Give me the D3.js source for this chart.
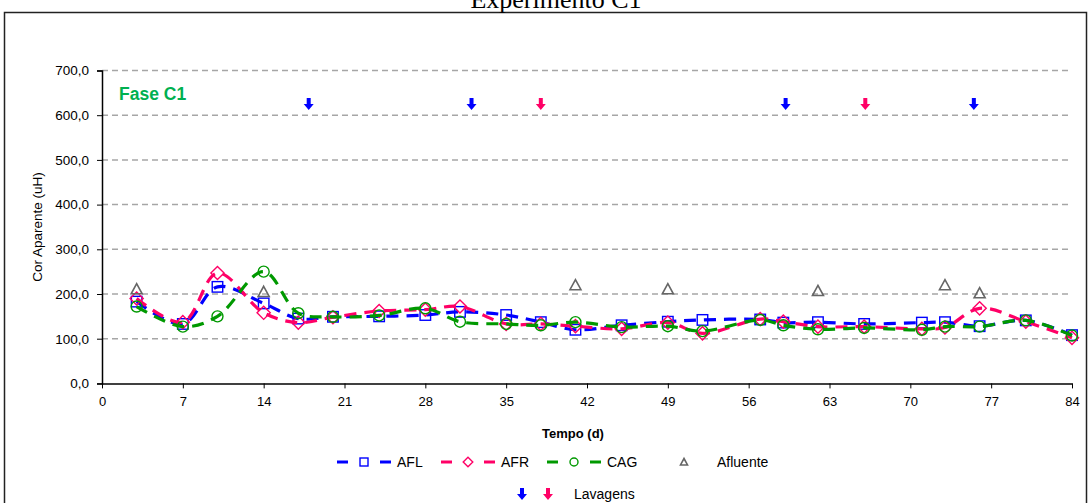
<!DOCTYPE html>
<html>
<head>
<meta charset="utf-8">
<script src="https://cdn.jsdelivr.net/npm/d3@7/dist/d3.min.js"></script>
<style>
  html, body { margin: 0; padding: 0; background: #fff; }
  svg { display: block; }
  text { font-family: Arial, "Liberation Sans", sans-serif; }
</style>
</head>
<body>
<svg id="chart" width="1089" height="503"></svg>
<script>
// Sampling days (d)
const days = [3, 7, 10, 14, 17, 20, 24, 28, 31, 35, 38, 41, 45, 49, 52, 57, 59, 62, 66, 71, 73, 76, 80, 84];

// Apparent colour (uH) for each filter
const afl = [183, 133, 216, 179, 145, 149, 150, 153, 160, 153, 137, 120, 130, 138, 142, 143, 136, 137, 133, 136, 137, 128, 141, 108];
const afr = [190, 137, 247, 158, 136, 148, 162, 165, 172, 133, 133, 128, 122, 136, 112, 144, 138, 127, 127, 122, 125, 168, 138, 102];
const cag = [172, 127, 150, 250, 157, 149, 152, 168, 138, 133, 130, 137, 126, 128, 117, 142, 130, 121, 124, 120, 127, 127, 141, 107];

// Influent samples
const afluenteDays = [3, 14, 41, 49, 62, 73, 76];
const afluente = [211, 205, 220, 211, 207, 220, 202];

// Backwash events (plotted near the top of the axis)
const lavagemAzulDays = [17.9, 32, 59.2, 75.5];
const lavagemRosaDays = [38, 66.1];
const lavagemNivel = 625;

const xTicks = [0, 7, 14, 21, 28, 35, 42, 49, 56, 63, 70, 77, 84];
const yTicks = [0, 100, 200, 300, 400, 500, 600, 700];

const svg = d3.select("#chart");

// Outer frame and title
svg.append("rect")
  .attr("x", 4.5).attr("y", 12.5).attr("width", 1082).attr("height", 500)
  .attr("fill", "none").attr("stroke", "#222").attr("stroke-width", 1.5);

svg.append("text")
  .attr("x", 556).attr("y", 8)
  .attr("text-anchor", "middle")
  .style("font-family", "'Liberation Serif', 'Times New Roman', serif")
  .style("font-size", "26px")
  .text("Experimento C1");

const x = d3.scaleLinear().domain([0, 84]).range([102, 1072]);
const y = d3.scaleLinear().domain([0, 700]).range([383.4, 70.5]);

// Gridlines
svg.append("g")
  .selectAll("line")
  .data(yTicks.filter(v => v > 0))
  .join("line")
  .attr("x1", x(0)).attr("x2", x(84))
  .attr("y1", d => y(d)).attr("y2", d => y(d))
  .attr("stroke", "#a6a6a6").attr("stroke-width", 1.5)
  .attr("stroke-dasharray", "6,4");

// Axes
const fmt = d => d3.format(".1f")(d).replace(".", ",");
const yAxis = svg.append("g")
  .attr("transform", `translate(${x(0)},0)`)
  .call(d3.axisLeft(y).tickValues(yTicks).tickFormat(fmt).tickSize(5).tickPadding(8));
yAxis.select(".domain").attr("stroke", "#000").attr("stroke-width", 1.5);
yAxis.selectAll(".tick line").attr("stroke", "#000");
yAxis.selectAll("text").style("font-size", "13.5px").attr("fill", "#000")
  .style("font-family", "Arial, 'Liberation Sans', sans-serif");

const xAxis = svg.append("g")
  .attr("transform", `translate(0,${y(0)})`)
  .call(d3.axisBottom(x).tickValues(xTicks).tickFormat(d3.format("d")).tickSize(5).tickSizeOuter(0).tickPadding(8));
xAxis.select(".domain").attr("stroke", "#000").attr("stroke-width", 1.5);
xAxis.selectAll(".tick line").attr("stroke", "#000");
xAxis.selectAll("text").style("font-size", "13px").attr("fill", "#000")
  .style("font-family", "Arial, 'Liberation Sans', sans-serif");

// Axis titles
svg.append("text")
  .attr("transform", `translate(42,${(y(0) + y(700)) / 2}) rotate(-90)`)
  .attr("text-anchor", "middle")
  .style("font-size", "13.5px")
  .text("Cor Aparente (uH)");

svg.append("text")
  .attr("x", 573).attr("y", 438)
  .attr("text-anchor", "middle")
  .style("font-size", "13px").style("font-weight", "bold")
  .text("Tempo (d)");

// Phase label
svg.append("text")
  .attr("x", 119).attr("y", 99.5)
  .style("font-size", "17.5px").style("font-weight", "bold")
  .attr("fill", "#00b050")
  .text("Fase C1");

// Marker shapes
function marker(sel, kind, color, size) {
  const s = size;
  if (kind === "square") {
    sel.append("rect").attr("x", -s / 2).attr("y", -s / 2).attr("width", s).attr("height", s)
      .attr("fill", "none").attr("stroke", color).attr("stroke-width", 1.4);
  } else if (kind === "diamond") {
    const h = s * 0.6;
    sel.append("path").attr("d", `M0,${-h}L${h},0L0,${h}L${-h},0Z`)
      .attr("fill", "none").attr("stroke", color).attr("stroke-width", 1.4);
  } else if (kind === "circle") {
    sel.append("circle").attr("r", s / 2)
      .attr("fill", "none").attr("stroke", color).attr("stroke-width", 1.4);
  } else if (kind === "triangle") {
    const h = s * 0.5;
    sel.append("path").attr("d", `M0,${-h}L${h},${h * 0.85}L${-h},${h * 0.85}Z`)
      .attr("fill", "none").attr("stroke", color).attr("stroke-width", 1.6);
  }
}

function arrow(sel, color) {
  sel.append("path")
    .attr("d", "M-2,-6L2,-6L2,0L5,0L0,6L-5,0L-2,0Z")
    .attr("fill", color);
}

const series = [
  { name: "AFL", values: afl, color: "#0000ff", kind: "square", size: 10.5 },
  { name: "AFR", values: afr, color: "#ff0066", kind: "diamond", size: 11 },
  { name: "CAG", values: cag, color: "#009900", kind: "circle", size: 11 }
];

const line = d3.line()
  .x(d => x(d[0])).y(d => y(d[1]))
  .curve(d3.curveCatmullRom.alpha(0.5));

series.forEach(s => {
  const pts = days.map((d, i) => [d, s.values[i]]);
  svg.append("path")
    .datum(pts)
    .attr("d", line)
    .attr("fill", "none")
    .attr("stroke", s.color)
    .attr("stroke-width", 3.2)
    .attr("stroke-dasharray", "12,8");
  svg.append("g").selectAll("g")
    .data(pts)
    .join("g")
    .attr("transform", d => `translate(${x(d[0])},${y(d[1])})`)
    .each(function () { marker(d3.select(this), s.kind, s.color, s.size); });
});

// Influent markers
svg.append("g").selectAll("g")
  .data(afluenteDays.map((d, i) => [d, afluente[i]]))
  .join("g")
  .attr("transform", d => `translate(${x(d[0])},${y(d[1])})`)
  .each(function () { marker(d3.select(this), "triangle", "#666666", 11); });

// Backwash arrows
svg.append("g").selectAll("g")
  .data(lavagemAzulDays)
  .join("g")
  .attr("transform", d => `translate(${x(d)},${y(lavagemNivel)})`)
  .each(function () { arrow(d3.select(this), "#0000ff"); });
svg.append("g").selectAll("g")
  .data(lavagemRosaDays)
  .join("g")
  .attr("transform", d => `translate(${x(d)},${y(lavagemNivel)})`)
  .each(function () { arrow(d3.select(this), "#ff0066"); });

// Legend
const legY = 462;
const legend = svg.append("g");
const legItems = [
  { label: "AFL", color: "#0000ff", kind: "square", x0: 337 },
  { label: "AFR", color: "#ff0066", kind: "diamond", x0: 441 },
  { label: "CAG", color: "#009900", kind: "circle", x0: 547 }
];
legItems.forEach(it => {
  legend.append("line").attr("x1", it.x0).attr("x2", it.x0 + 11).attr("y1", legY).attr("y2", legY)
    .attr("stroke", it.color).attr("stroke-width", 3);
  legend.append("line").attr("x1", it.x0 + 43).attr("x2", it.x0 + 54).attr("y1", legY).attr("y2", legY)
    .attr("stroke", it.color).attr("stroke-width", 3);
  const g = legend.append("g").attr("transform", `translate(${it.x0 + 27},${legY})`);
  marker(g, it.kind, it.color, 8);
  legend.append("text").attr("x", it.x0 + 60).attr("y", legY + 5)
    .style("font-size", "14px").text(it.label);
});
const gt = legend.append("g").attr("transform", `translate(684,${legY})`);
marker(gt, "triangle", "#666666", 7);
legend.append("text").attr("x", 717).attr("y", legY + 5).style("font-size", "14px").text("Afluente");

const ga = legend.append("g").attr("transform", `translate(522,494)`);
arrow(ga, "#0000ff");
const gr = legend.append("g").attr("transform", `translate(548,494)`);
arrow(gr, "#ff0066");
legend.append("text").attr("x", 574).attr("y", 499).style("font-size", "14px").text("Lavagens");
</script>
</body>
</html>
